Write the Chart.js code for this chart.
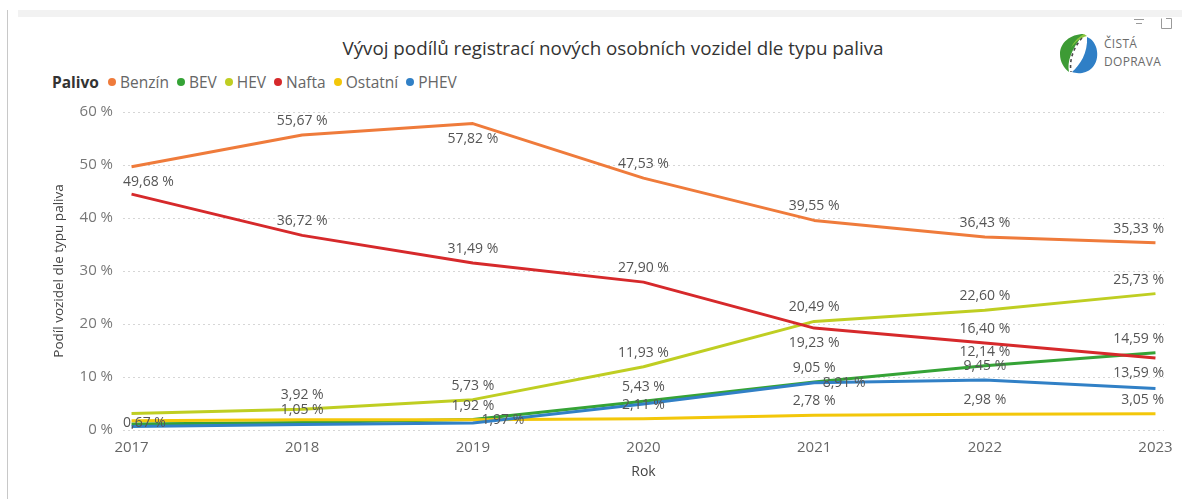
<!DOCTYPE html>
<html lang="cs">
<head>
<meta charset="utf-8">
<title>Vývoj podílů registrací nových osobních vozidel</title>
<script src="https://cdn.jsdelivr.net/npm/chart.js@4.4.1/dist/chart.umd.min.js"></script>
<style>
  html, body { margin: 0; padding: 0; background: #fff; }
  #page { position: relative; width: 1182px; height: 499px; overflow: hidden; font-family: "Open Sans", sans-serif; }
  #vline { position: absolute; left: 7px; top: 10px; width: 1px; bottom: 0; background: #c8c8c8; }
  #band { position: absolute; left: 18px; right: 0; top: 10px; height: 7px; background: #f2f2f2; }
  #title { position: absolute; left: 313px; width: 600px; top: 35px; text-align: center; font-size: 18.8px; line-height: 26px; color: #333; }
  #legend { position: absolute; left: 52px; top: 72px; height: 20px; display: flex; align-items: center; font-size: 15.5px; color: #666; white-space: nowrap; }
  #legend b { color: #333; margin-right: 9px; }
  #legend .item { display: flex; align-items: center; margin-right: 8px; }
  #legend .dot { width: 8px; height: 8px; border-radius: 50%; margin-right: 4px; }
  #logo { position: absolute; left: 1057px; top: 32px; }
  #logotext { position: absolute; left: 1104px; top: 35px; font-size: 12px; line-height: 18px; color: #6b6b6b; letter-spacing: 0.3px; }
  #icons { position: absolute; left: 1130px; top: 12px; }
  canvas { position: absolute; left: 0; top: 0; }
</style>
</head>
<body>
<div id="page">
  <div id="vline"></div>
  <div id="band"></div>
  <svg id="icons" width="45" height="18" viewBox="0 0 45 18">
    <g stroke="#9a9a9a" stroke-width="1" fill="none">
      <line x1="4" y1="7.5" x2="14" y2="7.5"/>
      <line x1="6" y1="11.5" x2="12" y2="11.5"/>
      <path d="M31.5 6.5 v10 h10 v-6"/>
      <path d="M36 6.5 h5.5 v4.5"/>
    </g>
  </svg>
  <div id="title">Vývoj podílů registrací nových osobních vozidel dle typu paliva</div>
  <div id="legend"></div>
  <svg id="logo" width="44" height="42" viewBox="0 0 44 42">
    <path d="M27 2 C13 2 3 11 3 22 C3 30 7 36 12 40 C10 30 14 17 27 2 Z" fill="#3d9b35"/>
    <path d="M27 2 C20 6 16 11 14 16 C18 10 23 6 30 4 Z" fill="#8cc63f"/>
    <path d="M30 5 C41 9 44 27 35 36 C29 42 20 42 15 40 C23 33 31 21 30 5 Z" fill="#2f7fc6"/>
    <path d="M25 6 C17 15 12 27 14 40" stroke="#4a4a4a" stroke-width="1.6" stroke-dasharray="3 3" fill="none"/>
  </svg>
  <div id="logotext">ČISTÁ<br>DOPRAVA</div>
  <canvas id="chart" width="1182" height="499"></canvas>
</div>
<script>
const years = [2017, 2018, 2019, 2020, 2021, 2022, 2023];
const yTicks = [0, 10, 20, 30, 40, 50, 60];

// Podíly v % podle typu paliva
const benzin  = [49.68, 55.67, 57.82, 47.53, 39.55, 36.43, 35.33];
const bev     = [1.15, 1.40, 1.97, 5.43, 9.05, 12.14, 14.59];
const hev     = [3.10, 3.92, 5.73, 11.93, 20.49, 22.60, 25.73];
const nafta   = [44.50, 36.72, 31.49, 27.90, 19.23, 16.40, 13.59];
const ostatni = [1.75, 1.95, 1.92, 2.11, 2.78, 2.98, 3.05];
const phev    = [0.67, 1.05, 1.30, 4.90, 8.91, 9.45, 7.85];

const fuelNames = ['Benzín', 'BEV', 'HEV', 'Nafta', 'Ostatní', 'PHEV'];
const fuelValues = [benzin, bev, hev, nafta, ostatni, phev];
const fuelColors = ['#ef7b3b', '#35a336', '#bfce22', '#d6292b', '#f3c70a', '#3180c6'];

// Umístění popisků: a = nad, b = pod, m = na čáře, r = na čáře vpravo, '' = bez popisku
const labelPlaces = [
  ['b', 'a', 'b', 'a', 'a', 'a', 'a'],
  ['', '', 'r', 'a', 'a', 'a', 'a'],
  ['', 'a', 'a', 'a', 'a', 'a', 'a'],
  ['', 'a', 'a', 'a', 'b', 'a', 'b'],
  ['', '', 'a', 'a', 'a', 'a', 'a'],
  ['m', 'a', '', '', 'r', 'a', ''],
];
const OFFSETS = { a: [0, -14], b: [0, 15], m: [0, -3], r: [30, 0] };
const FONT = '"Open Sans", sans-serif';

function fmt(v) {
  return v.toFixed(2).replace('.', ',') + ' %';
}

// Legenda
document.getElementById('legend').innerHTML = '<b>Palivo</b>' + fuelNames.map((n, i) =>
  `<span class="item"><span class="dot" style="background:${fuelColors[i]}"></span>${n}</span>`).join('');

const pointLabels = {
  id: 'pointLabels',
  afterDatasetsDraw(chart) {
    const { ctx, chartArea } = chart;
    ctx.save();
    ctx.font = '14px ' + FONT;
    ctx.fillStyle = '#555';
    ctx.textAlign = 'center';
    ctx.textBaseline = 'middle';
    chart.data.datasets.forEach((ds, i) => {
      chart.getDatasetMeta(i).data.forEach((pt, j) => {
        const place = labelPlaces[i][j];
        if (!place) return;
        const text = fmt(fuelValues[i][j]);
        const w = ctx.measureText(text).width;
        const off = OFFSETS[place];
        let x = pt.x + off[0];
        x = Math.max(chartArea.left + w / 2, Math.min(chartArea.right - w / 2, x));
        ctx.fillText(text, x, pt.y + off[1]);
      });
    });
    ctx.restore();
  }
};

new Chart(document.getElementById('chart'), {
  type: 'line',
  data: {
    datasets: fuelNames.map((n, i) => ({
      label: n,
      data: years.map((y, k) => ({ x: y, y: fuelValues[i][k] })),
      borderColor: fuelColors[i],
      backgroundColor: fuelColors[i],
      borderWidth: 3,
      pointRadius: 0,
      tension: 0,
      borderJoinStyle: 'round',
      order: fuelNames.length - i,
    })),
  },
  options: {
    responsive: false,
    animation: false,
    devicePixelRatio: 1,
    layout: { padding: { left: 45, top: 112, right: 18, bottom: 21 } },
    plugins: { legend: { display: false }, tooltip: { enabled: false } },
    scales: {
      x: {
        type: 'linear',
        min: 2016.95,
        max: 2023.05,
        afterBuildTicks: s => { s.ticks = years.map(v => ({ value: v })); },
        afterFit: s => { s.height = 48; },
        grid: { display: false },
        border: { display: false },
        ticks: { color: '#666', font: { family: FONT, size: 15 }, padding: 1, callback: v => String(v), maxRotation: 0 },
        title: { display: true, text: 'Rok', color: '#444', font: { family: FONT, size: 14 }, padding: { top: 0, bottom: -2 } },
      },
      y: {
        min: 0,
        max: 60,
        afterBuildTicks: s => { s.ticks = yTicks.map(v => ({ value: v })); },
        afterFit: s => { s.width = 78; },
        grid: { color: '#d6d6d6', drawTicks: false },
        border: { display: false, dash: [2, 3] },
        ticks: { color: '#777', font: { family: FONT, size: 15 }, padding: 10, callback: v => v + ' %' },
        title: { display: true, text: 'Podíl vozidel dle typu paliva', color: '#444', font: { family: FONT, size: 13.5 }, padding: { top: 6, bottom: 0 } },
      },
    },
  },
  plugins: [pointLabels],
});
</script>
</body>
</html>
